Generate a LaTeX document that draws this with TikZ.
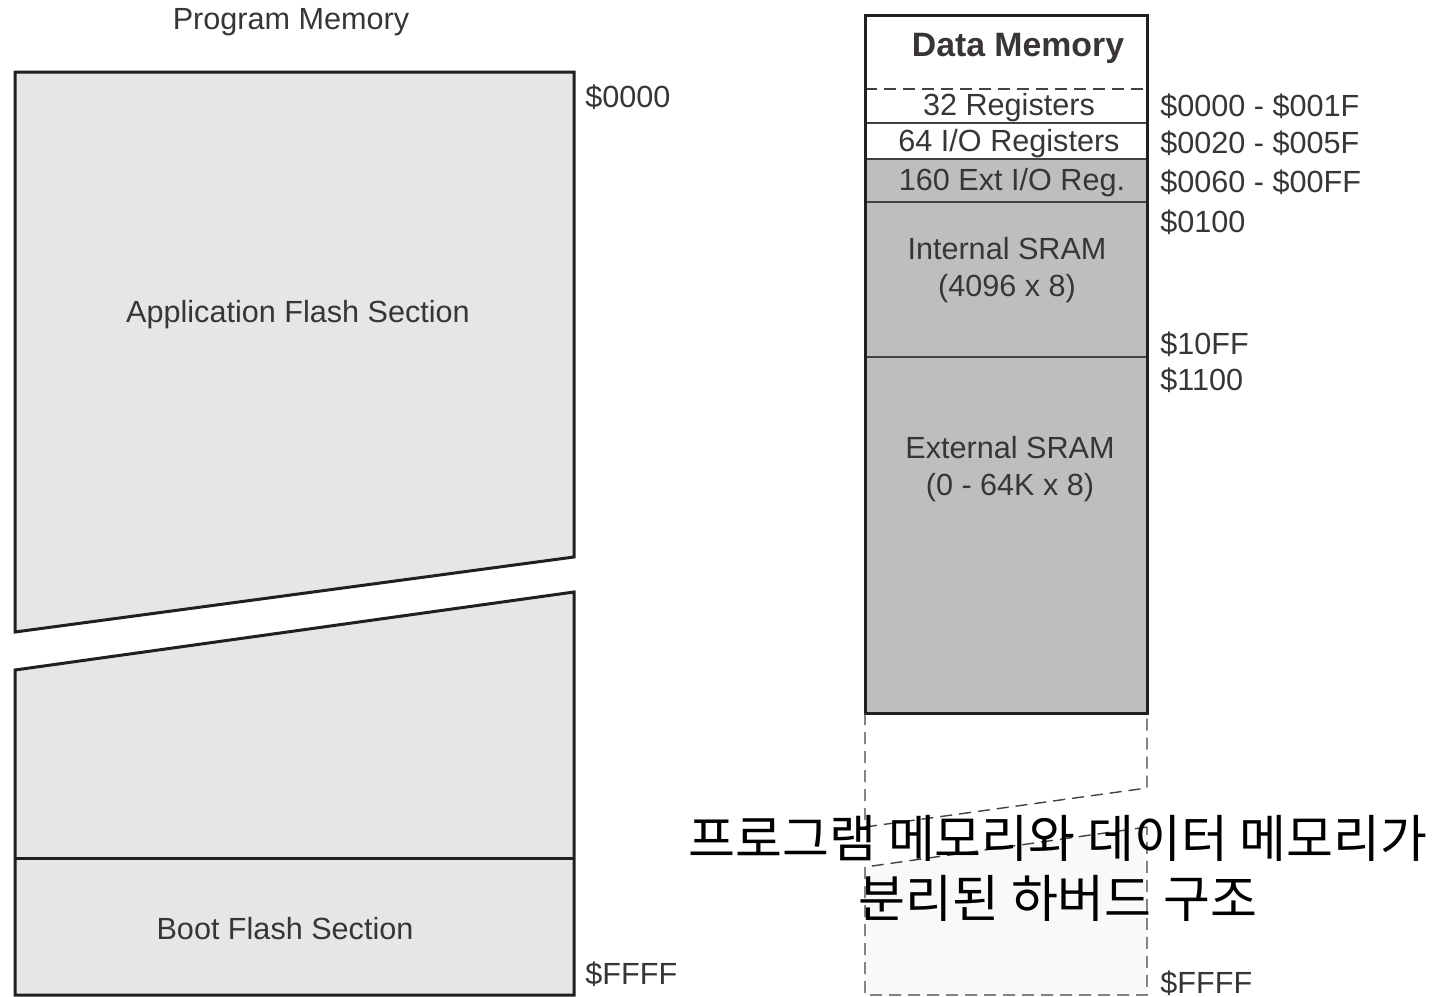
\documentclass[tikz,border=0pt]{standalone}
\usepackage{fontspec}
\setmainfont{Liberation Sans}
\newfontfamily\krfont{Noto Sans CJK KR}
\usepackage{xcolor}
\usepackage{tikz}
\definecolor{flashgray}{RGB}{230,230,230}
\definecolor{sramgray}{RGB}{189,190,192}
\definecolor{palegray}{RGB}{249,249,249}
\definecolor{inkblack}{RGB}{35,31,32}

\begin{document}
\begin{tikzpicture}[x=0.5pt,y=-0.5pt,
    outline/.style={draw=inkblack, line width=1.5pt, line join=miter},
    thinline/.style={draw=inkblack!85, line width=0.7pt},
    dashline/.style={draw=inkblack!85, line width=0.7pt, dash pattern=on 6pt off 3.5pt},
    lbl/.style={font=\fontsize{15.3}{18}\selectfont, text=inkblack!90, inner sep=0pt},
    addr/.style={lbl, anchor=west}]
    \useasboundingbox (0,0) rectangle (1437,997);

    % Program memory, broken in two
    \filldraw[outline, fill=flashgray] (15,72) -- (574,72) -- (574,557) -- (15,632) -- cycle;
    \filldraw[outline, fill=flashgray] (15,670) -- (574,592) -- (574,995) -- (15,995) -- cycle;
    \draw[outline] (15,858) -- (574,858);
    \node[lbl] (progtitle) at (291,22) {Program Memory};
    \node[lbl] (appflash) at (298,315) {Application Flash Section};
    \node[lbl] (bootflash) at (285,929) {Boot Flash Section};
    \node[addr] (progstart) at (585,97) {\$0000};
    \node[addr] (progend) at (585,974) {\$FFFF};

    % Data memory
    \fill[sramgray] (865,159) rectangle (1147,713);
    \draw[dashline] (865,89) -- (1147,89);
    \draw[thinline] (865,123) -- (1147,123);
    \draw[thinline] (865,159) -- (1147,159);
    \draw[thinline] (865,202) -- (1147,202);
    \draw[thinline] (865,357) -- (1147,357);
    \draw[outline] (865,15) rectangle (1147,713);
    \node[lbl, font=\fontsize{16.9}{20}\bfseries] (datatitle) at (1018,48) {Data Memory};
    \node[lbl] (regs) at (1009,108) {32 Registers};
    \node[lbl] (ioregs) at (1009,144) {64 I/O Registers};
    \node[lbl] (extio) at (1012,183) {160 Ext I/O Reg.};
    \node[lbl, align=center, font=\fontsize{15.3}{18.5}\selectfont] (intsram) at (1007,270) {Internal SRAM\\(4096 x 8)};
    \node[lbl, align=center, font=\fontsize{15.3}{18.5}\selectfont] (extsram) at (1010,469) {External SRAM\\(0 - 64K x 8)};

    % Data addresses
    \node[addr] (a1) at (1160,106) {\$0000 - \$001F};
    \node[addr] (a2) at (1160,143) {\$0020 - \$005F};
    \node[addr] (a3) at (1160,182) {\$0060 - \$00FF};
    \node[addr] (a4) at (1160,222) {\$0100};
    \node[addr] (a5) at (1160,344) {\$10FF};
    \node[addr] (a6) at (1160,380) {\$1100};
    \node[addr] (a7) at (1160,983) {\$FFFF};

    % Dashed continuation with break
    \fill[palegray] (865,867) -- (1147,827) -- (1147,995) -- (865,995) -- cycle;
    \draw[dashline] (865,713) -- (865,827) -- (1147,788) -- (1147,713);
    \draw[dashline] (1147,827) -- (865,867) -- (865,995) -- (1147,995) -- cycle;

    % Caption
    \node[align=center, inner sep=0pt, font=\krfont\fontsize{25.5}{30}\selectfont] (caption) at (1058,868) {프로그램 메모리와 데이터 메모리가\\분리된 하버드 구조};
\end{tikzpicture}
\end{document}
